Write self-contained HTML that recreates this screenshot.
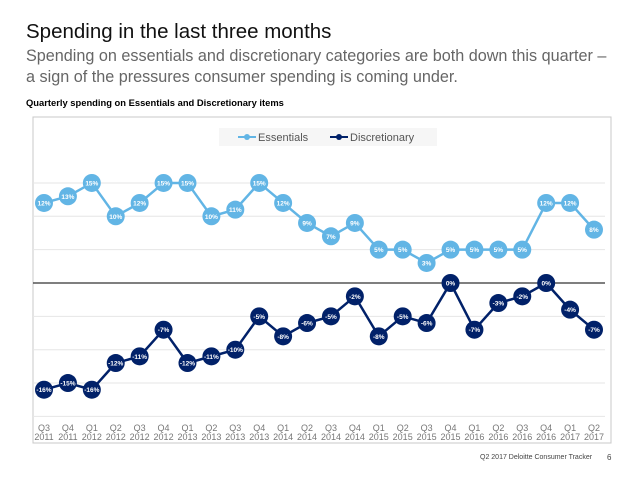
<!DOCTYPE html>
<html><head><meta charset="utf-8"><style>
body{margin:0;width:638px;height:479px;background:#fff;font-family:"Liberation Sans","DejaVu Sans",sans-serif;overflow:hidden;position:relative}
.t{position:absolute;white-space:nowrap}
</style></head><body>
<div class="t" style="left:26px;top:20px;font-size:20.5px;color:#111">Spending in the last three months</div>
<div class="t" style="left:26px;top:46px;font-size:16.2px;line-height:21px;color:#666">Spending on essentials and discretionary categories are both down this quarter –<br>a sign of the pressures consumer spending is coming under.</div>
<div class="t" style="left:26px;top:97px;font-size:9.4px;font-weight:bold;color:#000">Quarterly spending on Essentials and Discretionary items</div>
<div class="t" style="left:480px;top:454px;font-size:7px;color:#444">Q2 2017 Deloitte Consumer Tracker</div>
<div class="t" style="left:607px;top:453px;font-size:8px;color:#444">6</div>
<svg id="c" width="638" height="479" style="position:absolute;left:0;top:0"></svg>
<script>
const quarters=["Q3","Q4","Q1","Q2","Q3","Q4","Q1","Q2","Q3","Q4","Q1","Q2","Q3","Q4","Q1","Q2","Q3","Q4","Q1","Q2","Q3","Q4","Q1","Q2"];
const years=["2011","2011","2012","2012","2012","2012","2013","2013","2013","2013","2014","2014","2014","2014","2015","2015","2015","2015","2016","2016","2016","2016","2017","2017"];
const essentials=[12,13,15,10,12,15,15,10,11,15,12,9,7,9,5,5,3,5,5,5,5,12,12,8];
const discretionary=[-16,-15,-16,-12,-11,-7,-12,-11,-10,-5,-8,-6,-5,-2,-8,-5,-6,0,-7,-3,-2,0,-4,-7];
const gridVals=[15,10,5,-5,-10,-15,-20];
const NS="http://www.w3.org/2000/svg",svg=document.getElementById('c');
function mk(tag,a,p){const e=document.createElementNS(NS,tag);for(const k in a)e.setAttribute(k,a[k]);(p||svg).appendChild(e);return e;}
const x=i=>44+i*(550/23);
const y=v=>283-v*6.67;
let r=mk('rect',{x:33,y:117,width:578,height:326,fill:'#fff',stroke:'#c8c8c8'});


gridVals.forEach(v=>{const l=mk('line',{x1:33,x2:605,y1:y(v),y2:y(v),stroke:'#e6e6e6'});

});
let z=mk('line',{x1:33,x2:605,y1:y(0),y2:y(0),stroke:'#333','stroke-width':1.2});


quarters.forEach((q,i)=>{const t=mk('text',{x:x(i),y:431,'text-anchor':'middle','font-size':9,fill:'#777'});t.textContent=q;


const t2=mk('text',{x:x(i),y:440,'text-anchor':'middle','font-size':9,fill:'#777'});t2.textContent=years[i];

});
function series(data,col,name){
const g=mk('g',{});


const pl=mk('polyline',{points:data.map((v,i)=>x(i)+','+y(v)).join(' '),fill:'none',stroke:col,'stroke-width':2.5},g);


data.forEach((v,i)=>{const c=mk('circle',{cx:x(i),cy:y(v),r:9,fill:col},g);


const t=mk('text',{x:x(i),y:y(v)+2.5,'text-anchor':'middle','font-size':6.5,'font-weight':'bold',fill:'#fff'},g);t.textContent=v+'%';

});}
series(essentials,'#62b5e5','essentials');
series(discretionary,'#012169','discretionary');
const lg=mk('g',{});


mk('rect',{x:219,y:128,width:218,height:18,fill:'#f6f6f6'},lg);
[['Essentials','#62b5e5',238],['Discretionary','#012169',330]].forEach(([n,c,lx])=>{
const e=mk('g',{},lg);


mk('line',{x1:lx,x2:lx+18,y1:137,y2:137,stroke:c,'stroke-width':2},e);
mk('circle',{cx:lx+9,cy:137,r:3,fill:c},e);
const t=mk('text',{x:lx+20,y:141,'font-size':11,fill:'#555'},e);t.textContent=n;});
</script>
</body></html>
